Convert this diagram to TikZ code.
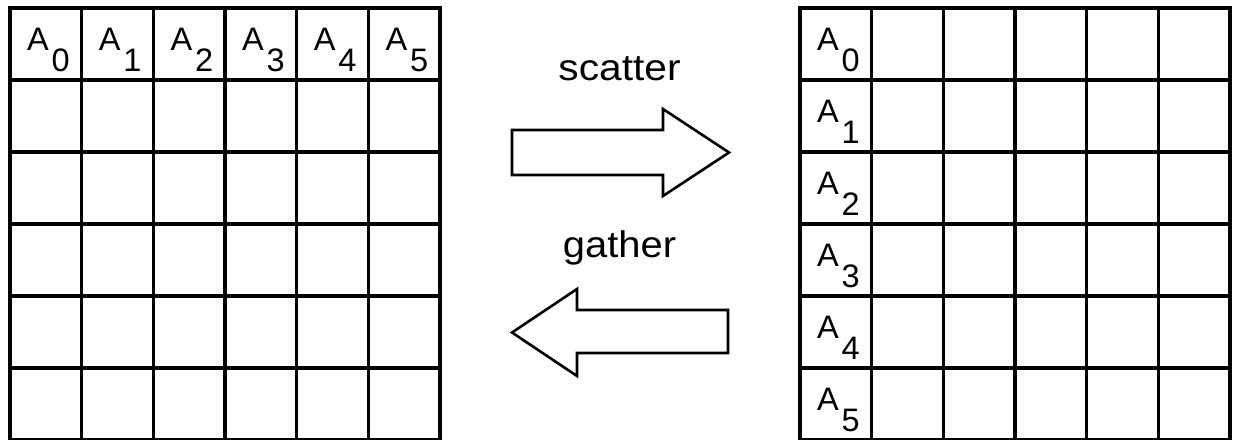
\documentclass[tikz,border=0pt]{standalone}
\usepackage{fontspec}
\setmainfont{Liberation Sans}
\begin{document}
\begin{tikzpicture}[x=1pt,y=-1pt,
  gridline/.style={line width=3.2pt, line cap=rect},
  arrowshape/.style={draw=black, line width=2.6pt, line join=miter, fill=white},
  lbl/.style={anchor=base west, inner sep=0pt, font=\fontsize{32.5}{34}\selectfont},
  word/.style={anchor=base, inner sep=0pt, font=\fontsize{37}{40}\selectfont}]
\useasboundingbox (0,0) rectangle (1234,439);
% left grid
\foreach \i in {0,...,6} {
  \draw[gridline] ({10+430*\i/6},8) -- ({10+430*\i/6},440);
}
\foreach \j in {0,...,6} {
  \draw[gridline] (10,{8+72*\j}) -- (440,{8+72*\j});
}
% right grid
\foreach \i in {0,...,6} {
  \draw[gridline] ({800+430*\i/6},8) -- ({800+430*\i/6},440);
}
\foreach \j in {0,...,6} {
  \draw[gridline] (800,{8+72*\j}) -- (1230,{8+72*\j});
}
% left labels
\foreach \i in {0,...,5} {
  \node[lbl] (LA\i) at ({10+430*\i/6+17},50.5) {A};
  \node[lbl] (Ld\i) at ({10+430*\i/6+41.5},71) {\i};
}
% right labels
\foreach \j in {0,...,5} {
  \node[lbl] (RA\j) at (817,{8+72*\j+42.5}) {A};
  \node[lbl] (Rd\j) at (841.5,{8+72*\j+63}) {\j};
}
% scatter arrow
\draw[arrowshape] (512,130) -- (663,130) -- (663,109) -- (729,152.5) -- (663,196) -- (663,175) -- (512,175) -- cycle;
\node[word] (scatter) at (619.5,80) {\scalebox{1.1}[1]{scatter}};
% gather arrow
\draw[arrowshape] (728,310) -- (577,310) -- (577,289) -- (512,332.5) -- (577,376) -- (577,353) -- (728,353) -- cycle;
\node[word] (gather) at (619.5,257) {\scalebox{1.08}[1]{gather}};
\end{tikzpicture}
\end{document}
